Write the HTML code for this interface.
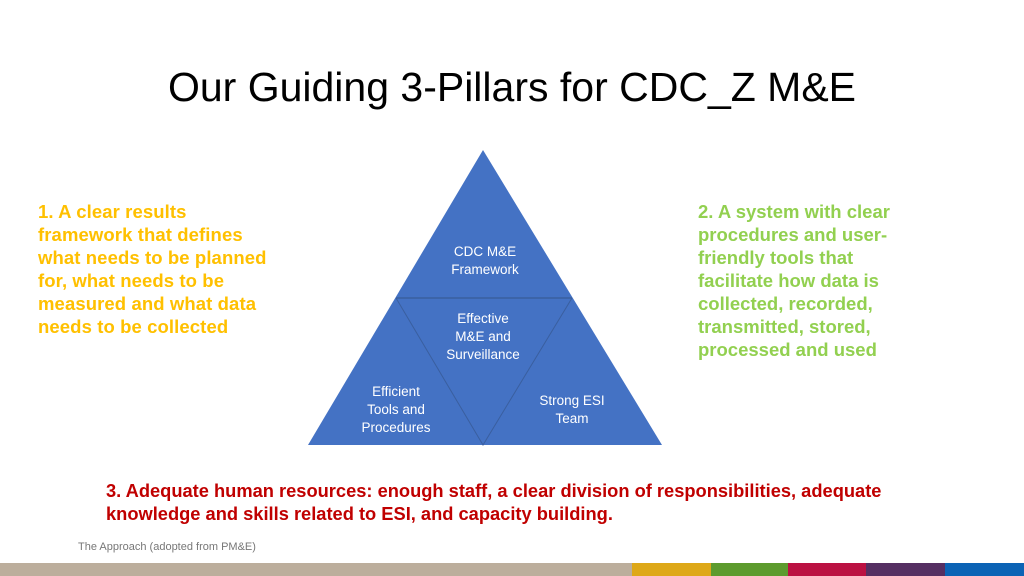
<!DOCTYPE html>
<html><head><style>
body{margin:0;width:1024px;height:576px;position:relative;background:#fff;font-family:"Liberation Sans",sans-serif;overflow:hidden}
.t{position:absolute;white-space:nowrap}
</style></head><body>
<div class="t" style="left:0;width:1024px;text-align:center;top:64px;font-size:41px;color:#000">Our Guiding 3-Pillars for CDC_Z M&amp;E</div>
<div class="t" style="left:38px;top:200px;font-size:18.5px;line-height:23px;font-weight:bold;color:#ffc000;letter-spacing:0.1px">1. A clear results<br>framework that defines<br>what needs to be planned<br>for, what needs to be<br>measured and what data<br>needs to be collected</div>
<div class="t" style="left:698px;top:200px;font-size:18.5px;line-height:23px;font-weight:bold;color:#92d050">2. A system with clear<br>procedures and user-<br>friendly tools that<br>facilitate how data is<br>collected, recorded,<br>transmitted, stored,<br>processed and used</div>
<div class="t" style="left:106px;top:479px;font-size:18.3px;line-height:23px;font-weight:bold;color:#c00000">3. Adequate human resources: enough staff, a clear division of responsibilities, adequate<br>knowledge and skills related to ESI, and capacity building.</div>
<svg style="position:absolute;left:0;top:0" width="1024" height="576">
<polygon points="483,150 662,445 308,445" fill="#4472c4"/>
<line x1="396" y1="298" x2="572" y2="298" stroke="#3a5f9f" stroke-width="1.5"/>
<polyline points="396,298 483,445 572,298" fill="none" stroke="#3a5f9f" stroke-width="1"/>
<g fill="#fff" font-size="13.5" text-anchor="middle" font-family="Liberation Sans,sans-serif">
<text x="485" y="256">CDC M&amp;E</text><text x="485" y="274">Framework</text>
<text x="483" y="323">Effective</text><text x="483" y="341">M&amp;E and</text><text x="483" y="359">Surveillance</text>
<text x="396" y="396">Efficient</text><text x="396" y="414">Tools and</text><text x="396" y="432">Procedures</text>
<text x="572" y="405">Strong ESI</text><text x="572" y="423">Team</text>
</g>
<rect x="0" y="563" width="632" height="13" fill="#bcae9c"/>
<rect x="632" y="563" width="79" height="13" fill="#dea818"/>
<rect x="711" y="563" width="77" height="13" fill="#5d9b2e"/>
<rect x="788" y="563" width="78" height="13" fill="#bb1142"/>
<rect x="866" y="563" width="79" height="13" fill="#552f62"/>
<rect x="945" y="563" width="79" height="13" fill="#0b63b5"/>
</svg>
<div class="t" style="left:78px;top:541px;font-size:11px;color:#777">The Approach (adopted from PM&amp;E)</div>
</body></html>
